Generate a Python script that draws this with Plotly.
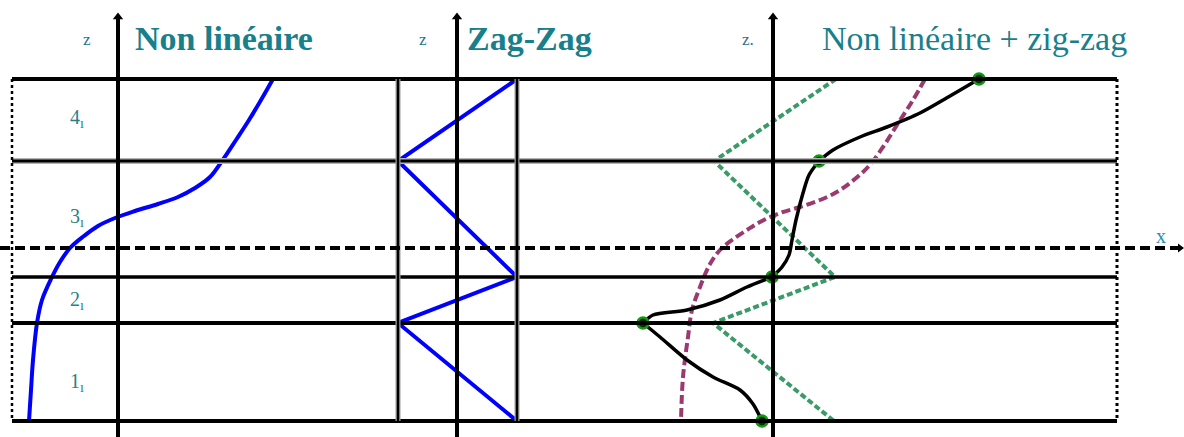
import plotly.graph_objects as go

# ---- geometry of the laminate (canvas units, z grows downward) ----
z_interfaces = [79, 161, 277, 323, 421]      # top .. bottom of the 4 plies
z_neutral = 248                              # reference (mid) plane
x_left_edge, x_right_edge = 12, 1117
axis_x = {"nl": 118, "zz": 457, "nlzz": 773}  # vertical z-axes of the 3 panels
z_axis_top, z_axis_bottom = 13, 437

# ---- panel 1 : non-linear displacement through the thickness ----
nl_z = [79, 100, 120, 140, 161, 177, 188, 197, 204, 211, 218, 226, 236, 248, 262, 277, 300, 323, 360, 390, 421]
nl_x = [273, 261, 249, 236, 222, 210, 195, 178, 158, 135, 115, 98, 84, 70, 60, 52, 42, 37, 33, 31, 29]

# ---- panel 2 : zig-zag function ----
zz_z = [79, 161, 277, 323, 421]
zz_x = [517, 398, 517, 398, 517]
zz_bounds = [398, 517]

# ---- panel 3 : non-linear + zig-zag ----
comb_z = [79, 96, 113, 127, 137, 150, 161,
          175, 193, 220, 240, 255, 267, 277,
          287, 300, 310, 315, 323,
          337, 360, 377, 390, 404, 421]
comb_x = [979, 950, 920, 887, 860, 833, 819,
          809, 803, 796, 792, 789, 782, 772,
          747, 720, 687, 653, 643,
          660, 687, 713, 740, 753, 762]
comb_breaks = [0, 6, 13, 18, 24]             # indices of the interface points

nl3_z = [79, 100, 125, 147, 167, 183, 193, 200, 207, 213, 222, 230, 240, 250, 264, 287, 310, 337, 377, 421]
nl3_x = [925, 913, 897, 883, 868, 850, 835, 820, 800, 780, 760, 747, 732, 720, 710, 700, 692, 688, 683, 681]

zz3_z = [79, 161, 277, 323, 421]
zz3_x = [836, 714, 835, 713, 834]

layer_labels = ["4<sub>ı</sub>", "3<sub>ı</sub>", "2<sub>ı</sub>", "1<sub>ı</sub>"]
layer_label_z = [118, 217, 300, 382]
titles = ["Non linéaire", "Zag-Zag", "Non linéaire + zig-zag"]

TEAL = "#17808c"
BLUE = "#0000ff"
GREEN = "#3a9a68"
MAGENTA = "#9b3a6e"

fig = go.Figure()
shapes = []

# horizontal ply interfaces
for z in z_interfaces:
    if z == 161:
        shapes.append(dict(type="line", x0=x_left_edge, x1=x_right_edge, y0=z, y1=z,
                           line=dict(color="#b4b4b4", width=6)))
        shapes.append(dict(type="line", x0=x_left_edge, x1=x_right_edge, y0=z, y1=z,
                           line=dict(color="black", width=3)))
    else:
        shapes.append(dict(type="line", x0=x_left_edge, x1=x_right_edge, y0=z, y1=z,
                           line=dict(color="black", width=4 if z != 277 else 3.5)))

# lateral edges (dotted)
for xe, w in [(x_left_edge, 2.5), (x_right_edge, 3)]:
    shapes.append(dict(type="line", x0=xe, x1=xe, y0=z_interfaces[0], y1=z_interfaces[-1],
                       line=dict(color="black", width=w, dash="dot")))

# zig-zag panel bounds
for xb in zz_bounds:
    shapes.append(dict(type="line", x0=xb, x1=xb, y0=z_interfaces[0], y1=z_interfaces[-1],
                       line=dict(color="#a0a0a0", width=5)))
    shapes.append(dict(type="line", x0=xb, x1=xb, y0=z_interfaces[0], y1=z_interfaces[-1],
                       line=dict(color="black", width=2.5)))

# mid-plane (x axis), dashed
shapes.append(dict(type="line", x0=0, x1=1178, y0=z_neutral, y1=z_neutral,
                   line=dict(color="black", width=4, dash="10px,5px")))

# vertical z axes
for xa in axis_x.values():
    shapes.append(dict(type="line", x0=xa, x1=xa, y0=z_axis_top + 4, y1=z_axis_bottom,
                       line=dict(color="black", width=4)))

fig.update_layout(shapes=shapes)

# arrow heads
fig.add_trace(go.Scatter(x=list(axis_x.values()), y=[z_axis_top + 4] * 3, mode="markers",
                         marker=dict(symbol="triangle-up", size=9, color="black"),
                         hoverinfo="skip", showlegend=False))
fig.add_trace(go.Scatter(x=[1180], y=[z_neutral], mode="markers",
                         marker=dict(symbol="triangle-right", size=8, color="black"),
                         hoverinfo="skip", showlegend=False))

# panel 1
fig.add_trace(go.Scatter(x=nl_x, y=nl_z, mode="lines", line=dict(color=BLUE, width=4, shape="spline"),
                         showlegend=False))
# panel 2
fig.add_trace(go.Scatter(x=zz_x, y=zz_z, mode="lines", line=dict(color=BLUE, width=4),
                         showlegend=False))
# panel 3
fig.add_trace(go.Scatter(x=zz3_x, y=zz3_z, mode="lines",
                         line=dict(color=GREEN, width=4, dash="6px,3px"), showlegend=False))
fig.add_trace(go.Scatter(x=nl3_x, y=nl3_z, mode="lines",
                         line=dict(color=MAGENTA, width=4, dash="9px,4px", shape="spline"),
                         showlegend=False))
for a, b in zip(comb_breaks[:-1], comb_breaks[1:]):
    fig.add_trace(go.Scatter(x=comb_x[a:b + 1], y=comb_z[a:b + 1], mode="lines",
                             line=dict(color="black", width=3.5, shape="spline", smoothing=0.8),
                             showlegend=False))
fig.add_trace(go.Scatter(x=[comb_x[i] for i in comb_breaks], y=[comb_z[i] for i in comb_breaks],
                         mode="markers",
                         marker=dict(symbol="circle", size=11, color="#0c2a0c",
                                     line=dict(color="#119a11", width=2.5)),
                         showlegend=False))

annotations = []
# panel titles
title_x = [133, 465, 820]
title_size = [34, 34, 34]
for t, tx, ts, bold in zip(titles, title_x, title_size, [True, True, False]):
    annotations.append(dict(x=tx, y=38, text=f"<b>{t}</b>" if bold else t, showarrow=False,
                            xanchor="left", yanchor="middle",
                            font=dict(family="Liberation Serif", size=ts, color=TEAL)))
# z labels
for zx, txt in [(87, "z"), (423, "z"), (748, "z.")]:
    annotations.append(dict(x=zx, y=39, text=txt, showarrow=False, xanchor="center",
                            yanchor="middle",
                            font=dict(family="Liberation Serif", size=17, color="#2a6f8a")))
# x label
annotations.append(dict(x=1161, y=236, text="x", showarrow=False, xanchor="center",
                        yanchor="middle", font=dict(family="Liberation Serif", size=20, color="#2a8fb0")))
# ply numbers
for lab, lz in zip(layer_labels, layer_label_z):
    annotations.append(dict(x=77, y=lz, text=lab, showarrow=False, xanchor="center",
                            yanchor="middle",
                            font=dict(family="Liberation Serif", size=20, color="#2a7f86")))
fig.update_layout(annotations=annotations)

fig.update_layout(
    width=1184, height=437,
    margin=dict(l=0, r=0, t=0, b=0),
    paper_bgcolor="white", plot_bgcolor="white",
    xaxis=dict(range=[0, 1184], visible=False, fixedrange=True),
    yaxis=dict(range=[437, 0], visible=False, fixedrange=True),
    showlegend=False,
)

fig.write_html("out.html")
